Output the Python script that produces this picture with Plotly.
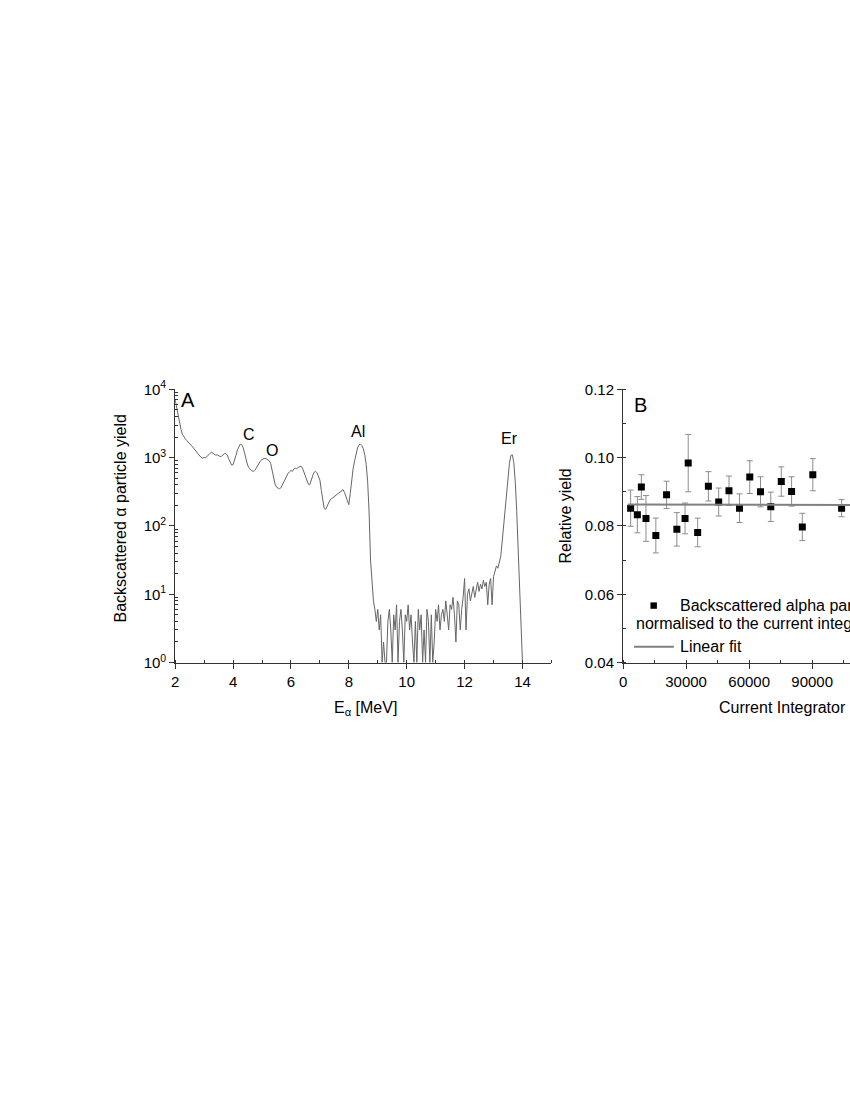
import plotly.graph_objects as go
from plotly.subplots import make_subplots

W, H = 850, 1100
FONT = "Liberation Sans, Arial, sans-serif"

# Panel A: backscattered alpha spectrum, one value per 0.05 MeV from 2.00 MeV
spec_e0 = 2.0
spec_de = 0.05
spec_counts = [
    7000, 5400, 4200, 3300, 2600, 2200, 2000, 1880, 1780, 1700,   # 2.00
    1620, 1530, 1440, 1350, 1260, 1190, 1130, 1060, 1000, 980,    # 2.50
    1010, 990, 1050, 1110, 1150, 1200, 1170, 1130, 1090, 1100,    # 3.00
    1070, 1040, 1050, 1110, 1140, 1150, 1090, 960, 840, 780,      # 3.50
    790, 900, 1080, 1300, 1480, 1580, 1550, 1400, 1160, 920,      # 4.00
    780, 710, 670, 640, 630, 650, 700, 770, 840, 900,             # 4.50
    940, 960, 980, 960, 940, 900, 820, 620, 480, 410,             # 5.00
    370, 355, 350, 360, 400, 440, 490, 540, 590, 620,             # 5.50
    650, 630, 680, 700, 690, 720, 740, 750, 700, 620,             # 6.00
    540, 460, 410, 400, 450, 540, 610, 630, 600, 540,             # 6.50
    470, 330, 220, 180, 175, 195, 220, 240, 250, 260,             # 7.00
    270, 280, 290, 300, 315, 330, 340, 310, 270, 220,             # 7.50
    205, 300, 480, 700, 900, 1150, 1380, 1540, 1580, 1500,        # 8.00
    1350, 1100, 800, 450, 160, 32, 13, 8, 6, 4,                   # 8.50
    6, 3, 5, 1, 2, 1, 1, 4, 6, 3,                                 # 9.00
    1, 5, 3, 7, 1, 4, 6, 3, 1, 5,                                 # 9.50
    4, 7, 3, 5, 2, 1, 4, 1, 6, 3,                                 # 10.00
    5, 1, 3, 1, 6, 4, 1, 5, 1, 2,                                 # 10.50
    6, 4, 7, 3, 5, 6, 4, 8, 5, 3,                                 # 11.00
    7, 6, 9, 5, 2, 8, 7, 3, 6, 9,                                 # 11.50
    17, 3, 10, 12, 8, 11, 13, 9, 12, 15,                          # 12.00
    11, 14, 12, 16, 13, 15, 7, 14, 17, 7,                         # 12.50
    18, 22, 26, 24, 30, 36, 60, 100, 190, 330,                    # 13.00
    540, 830, 1080, 1100, 850, 450, 170, 40, 14, 4,               # 13.50
    1,                                                            # 14.00
]

peak_names = ["C", "O", "Al", "Er"]
peak_pos_px = [(246, 431), (269, 447), (356, 428), (508, 435)]

e_ticks = [2, 4, 6, 8, 10, 12, 14]
log_ticks = [1, 10, 100, 1000, 10000]
log_ticktext = ["10<sup>0</sup>", "10<sup>1</sup>", "10<sup>2</sup>", "10<sup>3</sup>", "10<sup>4</sup>"]

# Panel B: relative yield vs current integrator
ci_counts = [3600, 6800, 8700, 10900, 15600, 20700, 25600, 29500, 31000, 35500, 40600,
             45500, 50400, 55400, 60300, 65400, 70300, 75300, 80200, 85300, 90300, 104000]
rel_yield = [0.0852, 0.0833, 0.0914, 0.0822, 0.0772, 0.0891, 0.0790, 0.0822, 0.0984, 0.0781, 0.0916,
             0.0870, 0.0903, 0.0852, 0.0943, 0.0900, 0.0856, 0.0930, 0.0901, 0.0797, 0.0950, 0.0852]
rel_err = [0.0053, 0.0053, 0.0036, 0.0067, 0.0051, 0.0040, 0.0049, 0.0045, 0.0084, 0.0042, 0.0043,
           0.0041, 0.0043, 0.0042, 0.0048, 0.0044, 0.0043, 0.0043, 0.0043, 0.0040, 0.0047, 0.0025]
fit_x = [2400, 120000]
fit_y = [0.0863, 0.0861]

ci_ticks = [0, 30000, 60000, 90000, 120000]
ry_ticks = [0.04, 0.06, 0.08, 0.10, 0.12]


def px(x):
    return x / W


def py(y):
    return 1 - y / H


fig = make_subplots(rows=1, cols=2)

fig.add_trace(
    go.Scatter(
        x0=spec_e0, dx=spec_de, y=spec_counts,
        mode="lines",
        line=dict(color="#666666", width=1),
        showlegend=False,
        hoverinfo="skip"
    ),
    row=1, col=1
)

fig.add_trace(
    go.Scatter(
        x=ci_counts, y=rel_yield,
        mode="markers",
        marker=dict(symbol="square", size=7, color="black"),
        error_y=dict(type="data", array=rel_err, color="#8c8c8c", thickness=1, width=3),
        showlegend=False
    ),
    row=1, col=2
)

fig.add_trace(
    go.Scatter(
        x=fit_x, y=fit_y,
        mode="lines",
        line=dict(color="#808080", width=2),
        showlegend=False
    ),
    row=1, col=2
)

axis_common = dict(
    showline=True, linecolor="#333333", linewidth=1,
    ticks="outside", ticklen=5, tickwidth=1, tickcolor="#333333",
    showgrid=False, zeroline=False,
    tickfont=dict(size=15, family=FONT, color="black"),
)

minor_log = [m * 10 ** k for k in range(4) for m in range(2, 10)]

fig.update_xaxes(
    domain=[px(172), px(550)], range=[2, 15],
    tickmode="array", tickvals=e_ticks,
    minor=dict(dtick=1, ticks="inside", ticklen=3, tickcolor="#333333"),
    **axis_common, row=1, col=1
)
fig.update_yaxes(
    domain=[py(663), py(385)], type="log", range=[0, 4],
    tickmode="array", tickvals=log_ticks, ticktext=log_ticktext,
    minor=dict(tickmode="array", tickvals=minor_log, ticks="inside", ticklen=3, tickcolor="#333333"),
    **axis_common, row=1, col=1
)
fig.update_xaxes(
    domain=[px(622), 1.0], range=[0, 108000],
    tickmode="array", tickvals=ci_ticks, tickformat="d",
    minor=dict(dtick=15000, ticks="inside", ticklen=3, tickcolor="#333333"),
    **axis_common, row=1, col=2
)
fig.update_yaxes(
    domain=[py(663), py(385)], range=[0.04, 0.12],
    tickmode="array", tickvals=ry_ticks, tickformat=".2f",
    minor=dict(dtick=0.01, ticks="inside", ticklen=3, tickcolor="#333333"),
    **axis_common, row=1, col=2
)

annotations = []


def label(text, x, y, size=16, xanchor="center", angle=0):
    annotations.append(dict(
        text=text, x=px(x), y=py(y), xref="paper", yref="paper",
        xanchor=xanchor, yanchor="middle", showarrow=False, textangle=angle,
        font=dict(size=size, family=FONT, color="black")
    ))


label("A", 176, 396, size=20, xanchor="left")
label("B", 631, 401, size=20, xanchor="left")
for name, (x, y) in zip(peak_names, peak_pos_px):
    label(name, x, y)

label("Backscattered α particle yield", 117, 516, angle=-90)
label("E<sub>α</sub> [MeV]", 363, 710)
label("Relative yield", 564, 514, angle=-90)
label("Current Integrator [counts]", 716, 709, xanchor="left")

# legend of panel B
label("Backscattered alpha particles", 677, 605, xanchor="left")
label("normalised to the current integrator", 633, 623, xanchor="left")
label("Linear fit", 677, 647, xanchor="left")

shapes = [
    dict(type="rect", xref="paper", yref="paper",
         x0=px(649.5), x1=px(656), y0=py(608.3), y1=py(601.8),
         fillcolor="black", line=dict(width=0)),
    dict(type="line", xref="paper", yref="paper",
         x0=px(633), x1=px(673), y0=py(647), y1=py(647),
         line=dict(color="#808080", width=2)),
]

fig.update_layout(
    width=W, height=H,
    margin=dict(l=0, r=0, t=0, b=0),
    paper_bgcolor="white", plot_bgcolor="white",
    font=dict(family=FONT, size=15, color="black"),
    annotations=annotations,
    shapes=shapes,
    showlegend=False
)

# drop the default body margin so the 850x1100 figure fills the window exactly
fig.write_html(
    "out.html",
    config={"displayModeBar": False},
    post_script="document.body.style.margin='0px'; document.body.style.overflow='hidden';"
)
